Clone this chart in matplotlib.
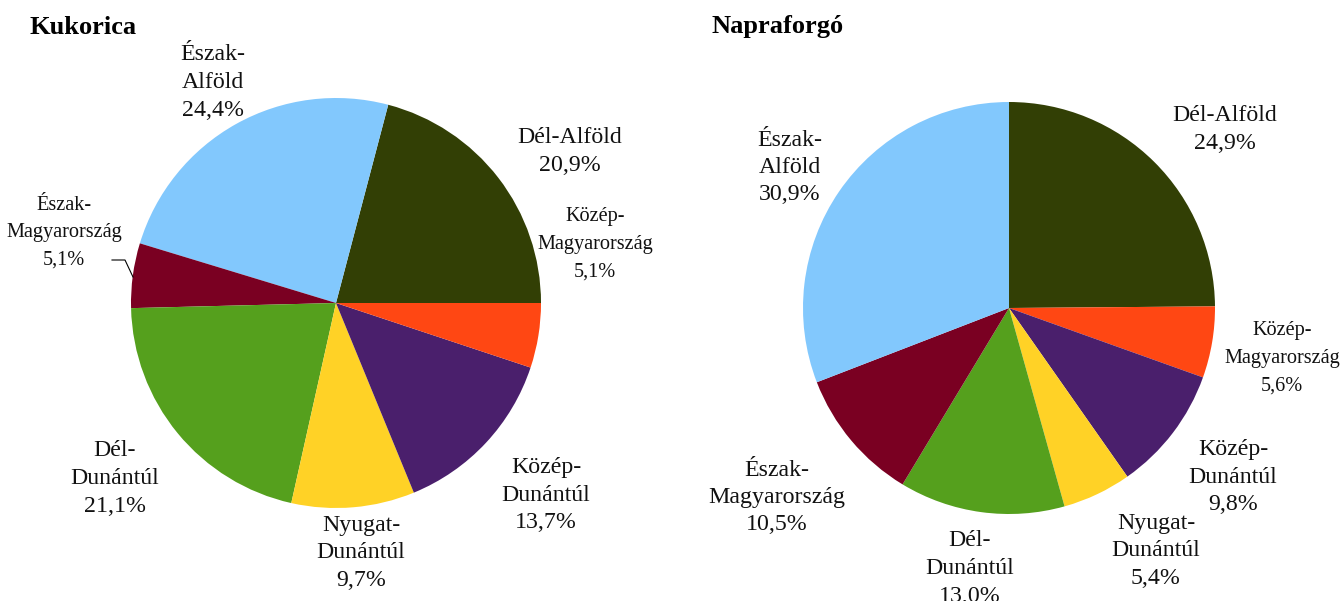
import matplotlib
matplotlib.use("Agg")
import matplotlib.pyplot as plt

plt.rcParams['font.family'] = ['Liberation Serif', 'DejaVu Serif']

# ---- data ----
kuk_labels = ["Dél-Alföld", "Észak-\nAlföld", "Észak-\nMagyarország", "Dél-\nDunántúl",
              "Nyugat-\nDunántúl", "Közép-\nDunántúl", "Közép-\nMagyarország"]
kuk_values = [20.9, 24.4, 5.1, 21.1, 9.7, 13.7, 5.1]

nap_labels = ["Dél-Alföld", "Közép-\nMagyarország", "Közép-\nDunántúl", "Nyugat-\nDunántúl",
              "Dél-\nDunántúl", "Észak-\nMagyarország", "Észak-\nAlföld"]
nap_values = [24.9, 5.6, 9.8, 5.4, 13.0, 10.5, 30.9]

region_colors = {
    "Dél-Alföld": "#323F05",
    "Észak-Alföld": "#82C8FD",
    "Észak-Magyarország": "#7A0022",
    "Dél-Dunántúl": "#55A01D",
    "Nyugat-Dunántúl": "#FFD226",
    "Közép-Dunántúl": "#4A1F6C",
    "Közép-Magyarország": "#FF4713",
}

titles = ["Kukorica", "Napraforgó"]

W, H = 1341, 601
fig = plt.figure(figsize=(W / 100, H / 100), dpi=100)
ax = fig.add_axes([0, 0, 1, 1])


def fy(y):
    return H - y


def key(lbl):
    return lbl.replace("\n", "")


def fmt(v):
    return f"{v:.1f}".replace(".", ",") + "%"


# Kukorica
ax.pie(kuk_values, colors=[region_colors[key(l)] for l in kuk_labels],
       startangle=0, counterclock=True, center=(336, fy(303)), radius=205,
       wedgeprops=dict(linewidth=0), frame=True)
# Napraforgó
ax.pie(nap_values, colors=[region_colors[key(l)] for l in nap_labels],
       startangle=90, counterclock=False, center=(1009, fy(308)), radius=206,
       wedgeprops=dict(linewidth=0), frame=True)
ax.set_xlim(0, W)
ax.set_ylim(0, H)
ax.set_aspect('equal')
ax.axis('off')

# label positions (pixel centres), in same order as data; flag = narrow (condensed) label
kuk_pos = [(570, 150, False), (213, 81, False), (64, 230, True), (115, 477, False),
           (361, 551, False), (546, 494, False), (595, 242, True)]
nap_pos = [(1225, 128, False), (1282, 356, True), (1233, 476, False), (1156, 549, False),
           (970, 567, False), (777, 496, False), (790, 166, False)]

pitch = 27.5
for labels, values, pos in [(kuk_labels, kuk_values, kuk_pos), (nap_labels, nap_values, nap_pos)]:
    for l, v, (x, y, narrow) in zip(labels, values, pos):
        lines = l.split("\n") + [fmt(v)]
        n = len(lines)
        for i, line in enumerate(lines):
            fs = 17.2
            if narrow:
                fs = 14.6
            base = y + 7 + (i - (n - 1) / 2) * pitch
            ax.text(x, fy(base), line, ha='center', va='baseline',
                    fontsize=fs, color='#111111')

# leader line for Észak-Magyarország (Kukorica)
ax.plot([112, 125, 133], [fy(260), fy(260), fy(277)], color='black', lw=0.8)

ax.text(30, fy(27), titles[0], ha='left', va='center', fontsize=19, fontweight='bold')
ax.text(712, fy(27), titles[1], ha='left', va='center', fontsize=19, fontweight='bold')

fig.savefig("out.png", dpi=100)
